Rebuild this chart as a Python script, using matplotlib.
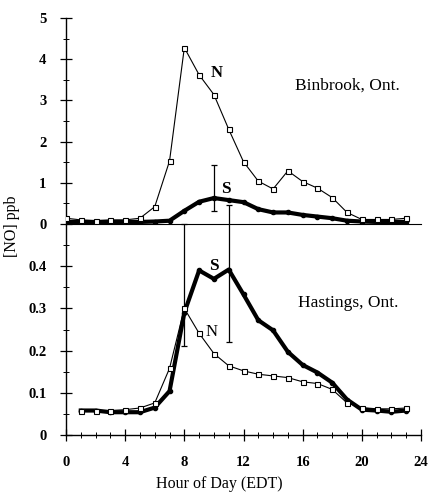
import matplotlib
matplotlib.use("Agg")
import matplotlib.pyplot as plt
from matplotlib.ticker import MultipleLocator

plt.rcParams['font.family'] = ['Liberation Serif', 'DejaVu Serif']

hours_top = list(range(0, 24))
binbrook_N = [0.14, 0.10, 0.08, 0.10, 0.10, 0.14, 0.42, 1.53, 4.28, 3.62, 3.14, 2.30,
              1.51, 1.04, 0.85, 1.29, 1.03, 0.87, 0.64, 0.28, 0.11, 0.11, 0.11, 0.14]
binbrook_S = [0.05, 0.05, 0.05, 0.05, 0.05, 0.05, 0.06, 0.08, 0.32, 0.54, 0.63, 0.58,
              0.53, 0.36, 0.28, 0.28, 0.22, 0.18, 0.14, 0.08, 0.06, 0.05, 0.05, 0.05]
binbrook_err_hour = 10
binbrook_err_range = (0.31, 1.43)

hours_bot = list(range(1, 24))
hastings_N = [0.058, 0.058, 0.058, 0.060, 0.064, 0.076, 0.158, 0.300, 0.241, 0.193, 0.164,
              0.152, 0.144, 0.140, 0.136, 0.126, 0.122, 0.108, 0.076, 0.065, 0.062, 0.062, 0.064]
hastings_S = [0.058, 0.058, 0.054, 0.054, 0.054, 0.065, 0.104, 0.290, 0.390, 0.370, 0.392,
              0.333, 0.272, 0.248, 0.197, 0.166, 0.148, 0.124, 0.084, 0.060, 0.058, 0.055, 0.058]
hastings_err_hours = [8, 11]
hastings_err_low = [0.21, 0.22]
hastings_err_high = [0.50, 0.545]

fig = plt.figure(figsize=(4.30, 4.93), dpi=100)
ax1 = fig.add_axes([66/430, 1-224/493, 355/430, 206/493])
ax2 = fig.add_axes([66/430, 1-435/493, 355/430, 211/493])

for ax in (ax1, ax2):
    ax.spines['top'].set_visible(False)
    ax.spines['right'].set_visible(False)
    ax.set_xlim(0, 24)
    ax.patch.set_alpha(0)

N_kw = dict(color='black', lw=0.8, marker='s', ms=3.6, mfc='white', mec='black', mew=0.8)
S_kw = dict(color='black', lw=3.0, marker='o', ms=3.0, mfc='black', mec='black')

# Top panel
ax1.plot(hours_top, binbrook_N, **N_kw, zorder=3)
ax1.plot(hours_top, binbrook_S, **S_kw, zorder=2)
ax1.vlines(binbrook_err_hour, *binbrook_err_range, color='black', lw=0.9)
for v in binbrook_err_range:
    ax1.hlines(v, binbrook_err_hour - 0.2, binbrook_err_hour + 0.2, color='black', lw=0.9)
ax1.set_ylim(0, 5)
ax1.yaxis.set_major_locator(MultipleLocator(1))
ax1.yaxis.set_minor_locator(MultipleLocator(0.5))
ax1.tick_params(axis='y', which='major', direction='inout', length=8, width=0.9,
                labelsize=10.5, pad=10)
ax1.tick_params(axis='y', which='minor', direction='inout', length=4, width=0.7)
ax1.tick_params(axis='x', which='both', bottom=False, labelbottom=False)
ax1.spines['bottom'].set_linewidth(0.8)
ax1.spines['left'].set_linewidth(1.0)
ax1.text(9.75, 3.58, 'N', fontsize=12, fontweight='bold')
ax1.text(10.5, 0.76, 'S', fontsize=12.5, fontweight='bold')
ax1.text(15.5, 3.37, 'Binbrook, Ont.', fontsize=12.5, va='center')

# Bottom panel
ax2.plot(hours_bot, hastings_N, **N_kw, zorder=3)
ax2.plot(hours_bot, hastings_S, **S_kw, zorder=2)
for h, lo, hi in zip(hastings_err_hours, hastings_err_low, hastings_err_high):
    ax2.vlines(h, lo, hi, color='black', lw=0.9, clip_on=False)
    for v in (lo, hi):
        ax2.hlines(v, h - 0.2, h + 0.2, color='black', lw=0.9, clip_on=False)
ax2.set_ylim(0, 0.5)
ax2.set_yticks([0, 0.1, 0.2, 0.3, 0.4])
ax2.set_yticklabels(['0', '0.1', '0.2', '0.3', '0.4'])
ax2.yaxis.set_minor_locator(MultipleLocator(0.05))
ax2.set_xticks([0, 4, 8, 12, 16, 20, 24])
ax2.xaxis.set_minor_locator(MultipleLocator(1))
ax2.tick_params(axis='both', which='major', direction='inout', length=8, width=0.9, labelsize=10.5)
ax2.tick_params(axis='both', which='minor', direction='inout', length=4, width=0.7)
ax2.tick_params(axis='x', pad=11)
ax2.tick_params(axis='y', pad=10)
ax2.spines['bottom'].set_linewidth(1.0)
ax2.spines['left'].set_linewidth(1.0)
ax2.text(9.7, 0.39, 'S', fontsize=12.5, fontweight='bold')
ax2.text(9.4, 0.235, 'N', fontsize=12)
ax2.text(15.7, 0.312, 'Hastings, Ont.', fontsize=12.5, va='center')

for ax in (ax1, ax2):
    for lab in ax.get_xticklabels() + ax.get_yticklabels():
        lab.set_fontweight('bold')

fig.text(219/430, 1-484/493, 'Hour of Day (EDT)', ha='center', va='center', fontsize=11.5)
fig.text(12/430, 1-226/493, '[NO] ppb', ha='center', va='center', rotation=90, fontsize=11.5)

fig.savefig('out.png', dpi=100)
